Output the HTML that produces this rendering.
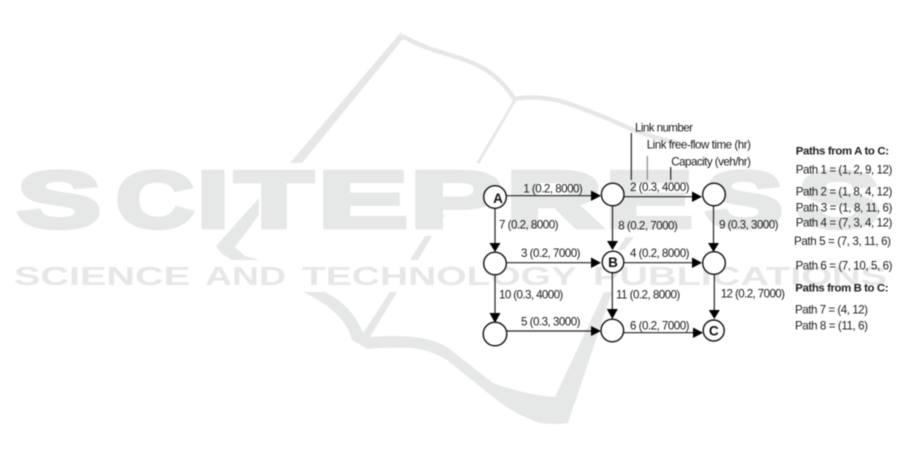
<!DOCTYPE html>
<html><head><meta charset="utf-8"><style>
html,body{margin:0;padding:0;background:#fff;width:901px;height:460px;overflow:hidden}
svg{display:block}
.w{font-family:"Liberation Sans",sans-serif;font-weight:700;fill:#e6e8e7;stroke:#e6e8e7;stroke-linejoin:miter}
.b{font-size:80px;stroke-width:4.5px}
.s{font-size:26px;stroke-width:0}
.t text{font-family:"Liberation Sans",sans-serif;font-size:11.6px;fill:#1c1c1c}
.t text.h{font-weight:700;font-size:11.4px}
.t text.k{font-weight:700;font-size:13.5px;text-anchor:middle;fill:#111}
.n circle{fill:#fff;stroke:#111;stroke-width:1.4}
.l line{stroke:#222;stroke-width:1.2}
.a polygon{fill:#000}
</style></head><body>
<svg width="901" height="460" viewBox="0 0 901 460" xmlns="http://www.w3.org/2000/svg">
<g style="filter:blur(.45px)">
<g class="w b">
<text x="17" y="227" textLength="84" lengthAdjust="spacingAndGlyphs">S</text>
<text x="116" y="227" textLength="78" lengthAdjust="spacingAndGlyphs">C</text>
<text x="197" y="227" textLength="32" lengthAdjust="spacingAndGlyphs">I</text>
<text x="235" y="227" textLength="78" lengthAdjust="spacingAndGlyphs">T</text>
<text x="318" y="227" textLength="90" lengthAdjust="spacingAndGlyphs">E</text>
<text x="410" y="227" textLength="92" lengthAdjust="spacingAndGlyphs">P</text>
<text x="506" y="227" textLength="96" lengthAdjust="spacingAndGlyphs">R</text>
<text x="605" y="227" textLength="88" lengthAdjust="spacingAndGlyphs">E</text>
<text x="705" y="227" textLength="78" lengthAdjust="spacingAndGlyphs">S</text>
<text x="798" y="227" textLength="82" lengthAdjust="spacingAndGlyphs">S</text>
</g>
<g class="w s">
<text x="14" y="285" textLength="176" lengthAdjust="spacingAndGlyphs">SCIENCE</text>
<text x="205" y="285" textLength="81" lengthAdjust="spacingAndGlyphs">AND</text>
<text x="302" y="285" textLength="275" lengthAdjust="spacingAndGlyphs">TECHNOLOGY</text>
<text x="593" y="285" textLength="294" lengthAdjust="spacingAndGlyphs">PUBLICATIONS</text>
</g>
<g fill="#e6e8e7">
<polygon points="401,32 290,163 302,163 403,39"/>
<polygon points="259,198 216,246 222,254 232,260 260,260 245,256 235,247 259,215"/>
<polygon points="440,215 445,215 437,228"/>
<polygon points="425,236 432,236 418,260 410,260"/>
<path d="M303,292 L325,292 Q352,305 363,333 L390,292 L397,292 L370,337 Q395,335 413,337 Q430,338 447,347 L493,383 Q525,395 555,397 L604,292 L612,292 L568,423 Q555,425 540,423 Q515,415 493,397 L447,360 Q430,350 413,348 Q390,347 367,349 L352,340 Q345,312 303,292 Z"/>
<polygon points="617,250 624,250 634,237 626,237"/>
</g>
<g fill="none" stroke="#e6e8e7">
<path d="M402,36 Q420,46 440,52 Q462,58 477,65 Q500,76 515,100" stroke-width="4.5"/>
<path d="M515,99 Q535,95 560,101 Q590,110 633,130 Q655,138 678,143" stroke-width="4.5"/>
<path d="M515,100 L478,163" stroke-width="3"/>
</g>
<g class="l">
<line x1="506" y1="195.7" x2="592" y2="195.7"/>
<line x1="624" y1="196.7" x2="693" y2="196.7" stroke-width="1.6"/>
<line x1="495" y1="208" x2="495" y2="243"/>
<line x1="612.5" y1="206" x2="612.5" y2="241"/>
<line x1="713.5" y1="206" x2="713.5" y2="243"/>
<line x1="507" y1="262.7" x2="592" y2="262.7"/>
<line x1="624" y1="262.7" x2="693" y2="262.7"/>
<line x1="495" y1="275" x2="495" y2="314"/>
<line x1="612.3" y1="273" x2="612.3" y2="310"/>
<line x1="714.3" y1="275" x2="714.3" y2="310"/>
<line x1="506" y1="331" x2="592" y2="331"/>
<line x1="624" y1="332.7" x2="694" y2="332.7"/>
<line x1="631.3" y1="133" x2="631.3" y2="180"/>
<line x1="647.3" y1="156" x2="647.3" y2="180" style="stroke:#888"/>
<line x1="670.7" y1="167" x2="670.7" y2="180"/>
</g>
<g class="a">
<polygon points="591,190.5 601,195.7 591,201"/>
<polygon points="692,191.5 702,196.7 692,202"/>
<polygon points="489.5,243 500.5,243 495,252"/>
<polygon points="607,241 618,241 612.5,250"/>
<polygon points="708,243 719,243 713.5,252"/>
<polygon points="591,257.5 601,262.7 591,268"/>
<polygon points="692,257.5 702,262.7 692,268"/>
<polygon points="489.5,313 500.5,313 495,323"/>
<polygon points="606.8,309 617.8,309 612.3,319"/>
<polygon points="708.8,310 719.8,310 714.3,319"/>
<polygon points="591,326 601,331 591,336"/>
<polygon points="693,327.5 703,332.7 693,338"/>
</g>
<g class="n">
<circle cx="495" cy="197" r="11.3"/>
<circle cx="612.7" cy="194.5" r="11.3"/>
<circle cx="714" cy="194.5" r="11.3"/>
<circle cx="495" cy="263.5" r="11.3"/>
<circle cx="613" cy="262" r="10.8"/>
<circle cx="714" cy="263" r="11.3"/>
<circle cx="495" cy="334" r="11.8"/>
<circle cx="612.3" cy="330.5" r="11.3"/>
<circle cx="713.7" cy="330.5" r="10.5"/>
</g>
<g class="t">
<text x="523.3" y="192.3" textLength="59.5">1 (0.2, 8000)</text>
<text x="630" y="191" textLength="59.5">2 (0.3, 4000)</text>
<text x="499" y="228.3" textLength="59.5">7 (0.2, 8000)</text>
<text x="618.3" y="229.7" textLength="59.5">8 (0.2, 7000)</text>
<text x="719" y="228.7" textLength="59.5">9 (0.3, 3000)</text>
<text x="521" y="257" textLength="59.5">3 (0.2, 7000)</text>
<text x="630" y="257" textLength="59.5">4 (0.2, 8000)</text>
<text x="499" y="298.7" textLength="64.3">10 (0.3, 4000)</text>
<text x="616" y="298.7" textLength="64.3">11 (0.2, 8000)</text>
<text x="720.7" y="297.7" textLength="64.3">12 (0.2, 7000)</text>
<text x="521" y="325.3" textLength="59.5">5 (0.3, 3000)</text>
<text x="630" y="329.7" textLength="59.5">6 (0.2, 7000)</text>
<text x="635" y="131.7" textLength="58">Link number</text>
<text x="646.7" y="148.7" textLength="104.3">Link free-flow time (hr)</text>
<text x="671.3" y="165.7" textLength="79.7">Capacity (veh/hr)</text>
<text class="h" x="795.7" y="154.7" textLength="93.3">Paths from A to C:</text>
<text x="795.7" y="173.3" textLength="96.7">Path 1 = (1, 2, 9, 12)</text>
<text x="795.7" y="195.3" textLength="96.7">Path 2 = (1, 8, 4, 12)</text>
<text x="795.7" y="211.7" textLength="96.7">Path 3 = (1, 8, 11, 6)</text>
<text x="795.7" y="226.7" textLength="96.7">Path 4 = (7, 3, 4, 12)</text>
<text x="794" y="245" textLength="97">Path 5 = (7, 3, 11, 6)</text>
<text x="795.5" y="269.7" textLength="97">Path 6 = (7, 10, 5, 6)</text>
<text class="h" x="795.3" y="291.3" textLength="93.2">Paths from B to C:</text>
<text x="795" y="313.7" textLength="73">Path 7 = (4, 12)</text>
<text x="795" y="329.7" textLength="73">Path 8 = (11, 6)</text>
<text class="k" x="498" y="203">A</text>
<text class="k" x="613" y="267">B</text>
<text class="k" x="713.7" y="335.5">C</text>
</g>
</g>
</svg>
</body></html>
